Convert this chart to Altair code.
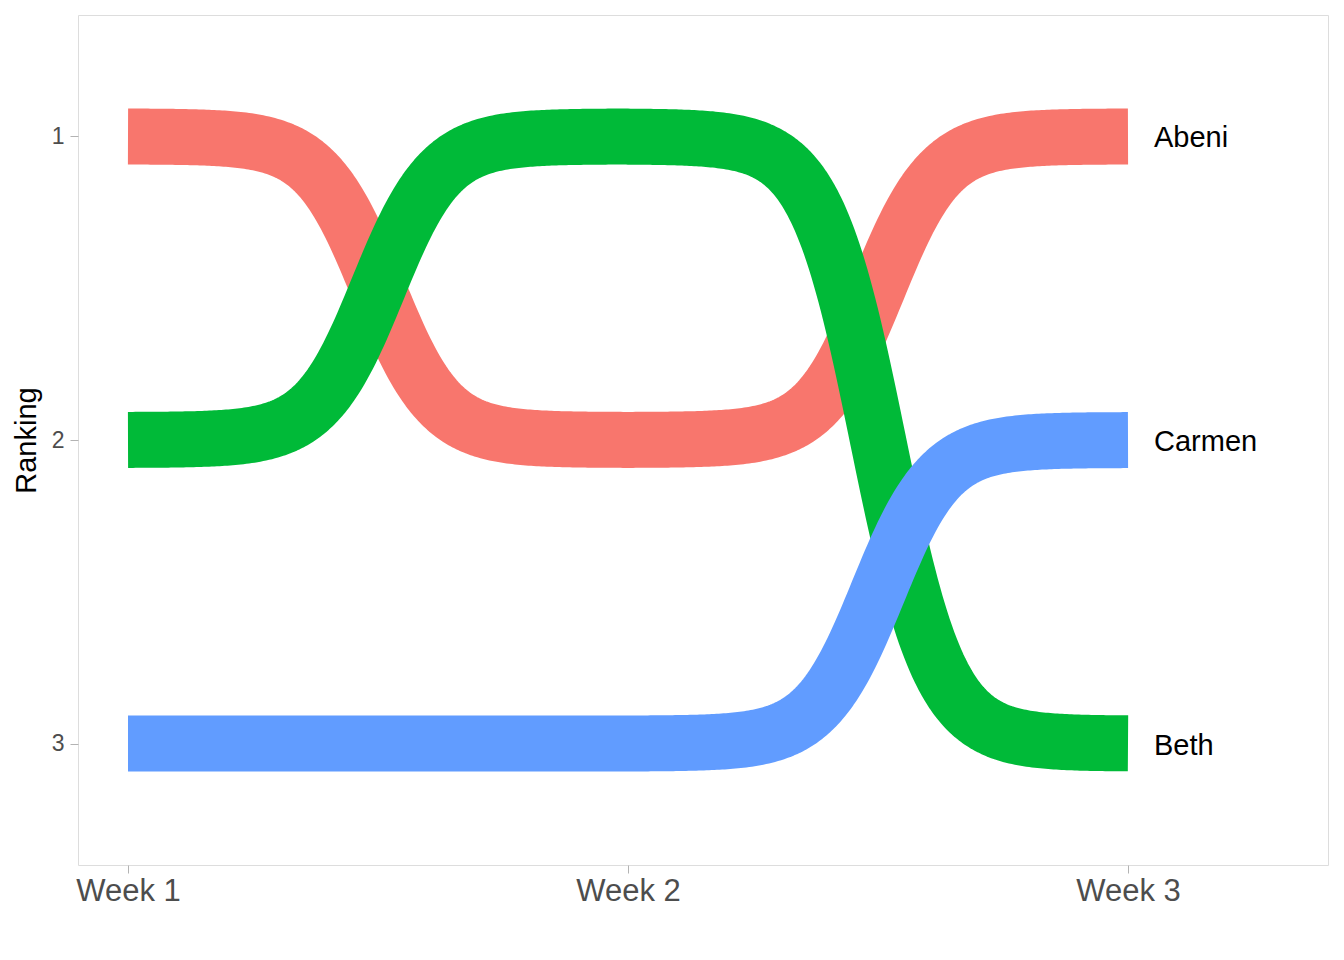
import json
import altair as alt
import pandas as pd

people = ["Abeni", "Beth", "Carmen"]
weeks = ["Week 1", "Week 2", "Week 3"]
rank_abeni = [1, 2, 1]
rank_beth = [2, 1, 3]
rank_carmen = [3, 3, 2]
colors = ["#F8766D", "#00BA38", "#619CFF"]

rows = []
for p, ranks in zip(people, [rank_abeni, rank_beth, rank_carmen]):
    for i, r in enumerate(ranks):
        rows.append({"person": p, "week": i + 1, "rank": r})
df = pd.DataFrame(rows)

FONT = "Liberation Sans"
week_expr = json.dumps(weeks) + "[datum.value - 1]"

xscale = alt.Scale(domain=[0.9, 3.4], nice=False, zero=False)
yscale = alt.Scale(domain=[0.6, 3.4], nice=False, zero=False, reverse=True)
cscale = alt.Scale(domain=people, range=colors)

xaxis = alt.Axis(values=[1, 2, 3], labelExpr=week_expr, title=None, grid=False,
                 domain=False, tickColor="#B3B3B3", tickSize=8, labelFontSize=31,
                 labelColor="#4D4D4D", labelFont=FONT, labelPadding=3)
yaxis = alt.Axis(values=[1, 2, 3], format="d", title="Ranking", grid=False,
                 domain=False, tickColor="#B3B3B3", tickSize=8, labelFontSize=23,
                 labelColor="#4D4D4D", labelFont=FONT, labelPadding=6,
                 titleFontSize=29, titleFont=FONT, titleFontWeight="normal",
                 titleColor="black", titlePadding=10)

base = alt.Chart(df)

lines = base.transform_window(
    window=[alt.WindowFieldDef(op="lead", field="rank", **{"as": "next_rank"})],
    groupby=["person"],
    sort=[alt.SortField(field="week")],
).transform_filter(
    "datum.next_rank != null"
).transform_calculate(
    i="sequence(0, 201)"
).transform_flatten(
    ["i"]
).transform_calculate(
    s="datum.i / 200"
).transform_calculate(
    x="datum.week + datum.s",
    y="datum.rank + (datum.next_rank - datum.rank) / (1 + exp(-(16 * datum.s - 8)))",
).mark_line(strokeWidth=56, strokeCap="butt", strokeJoin="round").encode(
    x=alt.X("x:Q", scale=xscale, axis=xaxis),
    y=alt.Y("y:Q", scale=yscale, axis=yaxis),
    color=alt.Color("person:N", scale=cscale, legend=None),
    detail="person:N",
    order=alt.Order("x:Q"),
)

labels = base.transform_filter("datum.week == 3").mark_text(
    align="left", baseline="middle", dx=26, dy=2, fontSize=29, font=FONT, color="black"
).encode(
    x=alt.X("week:Q", scale=xscale),
    y=alt.Y("rank:Q", scale=yscale),
    text="person:N",
)

chart = alt.layer(lines, labels).properties(
    width=1250, height=850,
    autosize=alt.AutoSizeParams(type="none"),
    padding={"left": 78, "top": 15, "right": 16, "bottom": 95},
).configure_view(stroke="#B3B3B3", strokeWidth=1.2).configure(background="white")

chart.save("out.html", embed_options={"renderer": "svg", "actions": False})
